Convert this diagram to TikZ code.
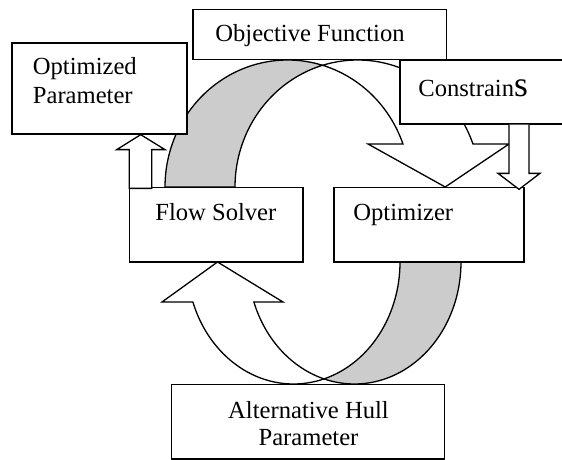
\documentclass[tikz,border=0pt]{standalone}
\usepackage{fontspec}
\setmainfont{Liberation Serif}
\usetikzlibrary{fit,calc}
\begin{document}
\begin{tikzpicture}[x=0.5pt,y=-0.5pt,
  outline/.style={draw=black, line width=0.65pt, line join=miter},
  box/.style={outline, fill=white, rectangle, inner sep=0pt},
  back/.style={outline, fill=gray!40},
  front/.style={outline, fill=white},
  txt/.style={font=\fontsize{12.3}{14}\selectfont, inner sep=0pt},
]
\useasboundingbox (0,0) rectangle (562,460);
\clip (0,0) rectangle (562,460);

% upper curved arrow: shaded underside, then the front band with its head
\draw[back]
  plot[domain=180:73.4,samples=60] ({287.6+122.6*cos(\x)},{187-127*sin(\x)})
  -- plot[domain=106.6:180,samples=60] ({357.6+122.6*cos(\x)},{187-127*sin(\x)})
  -- cycle;
\draw[front]
  plot[domain=73.4:19.79,samples=60] ({287.6+122.6*cos(\x)},{187-127*sin(\x)})
  -- (368,144) -- (445.2,187) -- (509,144)
  -- plot[domain=19.79:106.6,samples=60] ({357.6+122.6*cos(\x)},{187-127*sin(\x)})
  -- cycle;

% lower curved arrow
\draw[back]
  plot[domain=0:106.64,samples=60] ({354.5+106.5*cos(\x)},{262+122*sin(\x)})
  -- plot[domain=73.36:0,samples=60] ({293.5+106.5*cos(\x)},{262+122*sin(\x)})
  -- cycle;
\draw[front]
  plot[domain=73.36:160.86,samples=60] ({293.5+106.5*cos(\x)},{262+122*sin(\x)})
  -- (162,302) -- (217.5,262) -- (283,302)
  -- plot[domain=160.86:106.64,samples=60] ({354.5+106.5*cos(\x)},{262+122*sin(\x)})
  -- cycle;

% boxes
\node[box, fit={(193,9.5) (446.5,59.5)}] (objfun) {};
\node[box, fit={(12,43) (187,134)}] (optpar) {};
\node[box, fit={(400,60) (580,124)}] (constr) {};
\node[box, fit={(129.5,187.5) (303,262)}] (flow) {};
\node[box, fit={(334,187.5) (524,262)}] (optim) {};
\node[box, fit={(171.5,384.5) (444.5,459)}] (althull) {};

% texts
\node[txt, anchor=base west] (objfun-t) at (215,42) {Objective Function};
\node[txt, anchor=base west] (optpar-t1) at (32.5,75) {Optimized};
\node[txt, anchor=base west] (optpar-t2) at (32.5,104) {Parameter};
\node[txt, anchor=base west] (constr-t) at (418,97) {Constrain{\fontsize{17.8}{17.8}\selectfont s}};
\node[txt, anchor=base west] (flow-t) at (155,220) {Flow Solver};
\node[txt, anchor=base west] (optim-t) at (353,220) {Optimizer};
\node[txt, anchor=base] (althull-t1) at (308.5,418) {Alternative Hull};
\node[txt, anchor=base] (althull-t2) at (308.5,445) {Parameter};

% block arrow: flow solver -> optimized parameter
\coordinate (uptip) at (140.7,0 |- optpar.south);
\coordinate (upfoot) at ($(140.7,0 |- flow.north)+(0,1.5)$);
\draw[front] (uptip) -- ($(uptip)+(24.3,15)$) -- ($(uptip)+(11,15)$)
  -- ($(upfoot)+(11,0)$) -- ($(upfoot)+(-11.4,0)$)
  -- ($(uptip)+(-11.4,15)$) -- ($(uptip)+(-24,15)$) -- cycle;

% block arrow: constraints -> optimizer
\coordinate (dnroot) at (519,0 |- constr.south);
\coordinate (dntip) at ($(519,0 |- optim.north)+(0,2.5)$);
\draw[front] (dnroot) ++(-10,0) coordinate (dnl)
  (dnl) -- ($(dntip)+(-10,-16)$) -- ($(dntip)+(-21,-16)$) -- (dntip)
  -- ($(dntip)+(21,-16)$) -- ($(dntip)+(10,-16)$) -- ($(dnroot)+(10,0)$);
\end{tikzpicture}
\end{document}
